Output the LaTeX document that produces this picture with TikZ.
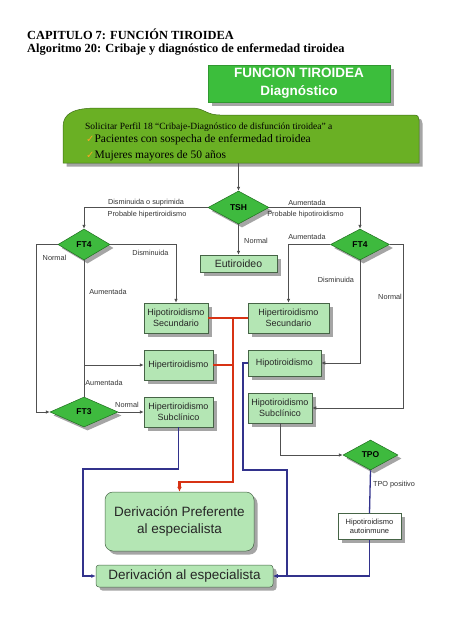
\documentclass[tikz,border=0pt]{standalone}
\usepackage{fontspec}
\setmainfont{Liberation Serif}
\setsansfont{Liberation Sans}
\newfontfamily\djv{DejaVu Sans}
\usetikzlibrary{shapes.geometric,shadows,arrows.meta}
\definecolor{mainG}{RGB}{106,176,36}
\definecolor{mainB}{RGB}{60,110,20}
\definecolor{titleG}{RGB}{60,190,60}
\definecolor{diaG}{RGB}{62,186,62}
\definecolor{diaB}{RGB}{30,110,30}
\definecolor{lightG}{RGB}{180,230,180}
\definecolor{boxB}{RGB}{70,100,70}
\definecolor{lineC}{RGB}{80,80,80}
\definecolor{redC}{RGB}{215,50,20}
\definecolor{blueC}{RGB}{50,50,140}
\definecolor{checkC}{RGB}{250,165,35}
\definecolor{shadC}{RGB}{165,165,165}
\newcommand{\chk}{{\djv\bfseries\fontsize{10}{10}\selectfont\textcolor{checkC}{\symbol{"2713}}}}
\begin{document}
\begin{tikzpicture}[x=1pt,y=-1pt,
  shad/.style={drop shadow={shadow xshift=3.5pt,shadow yshift=-3.5pt,fill=shadC,opacity=1}},
  diam/.style={diamond,draw=diaB,fill=diaG,inner sep=0pt,line width=0.5pt,
    font=\sffamily\bfseries\fontsize{8.5}{9}\selectfont,shad},
  lbox/.style={rectangle,draw=boxB,fill=lightG,inner sep=0pt,align=center,line width=0.5pt,
    font=\sffamily\fontsize{9}{10.5}\selectfont,text=black!85,shad},
  lab/.style={inner sep=0pt,font=\sffamily\fontsize{7.3}{8}\selectfont,text=black!80},
  conn/.style={draw=lineC,line width=0.7pt,-{Latex[length=4pt,width=3.5pt]}},
  plain/.style={draw=lineC,line width=0.7pt},
  redl/.style={draw=redC,line width=2.2pt},
  redconn/.style={draw=redC,line width=2.2pt,-{Latex[length=5pt,width=5pt]}},
  bluel/.style={draw=blueC,line width=1.3pt},
  blueconn/.style={draw=blueC,line width=1.3pt,-{Latex[length=4.5pt,width=4pt]}}
]
\useasboundingbox[fill=white] (0,0) rectangle (452,640);

% titles
\node[anchor=base west,inner sep=0pt,font=\fontsize{12.4}{14}\selectfont\bfseries] (t1) at (27,39.5) {CAPITULO 7: FUNCIÓN TIROIDEA};
\node[anchor=base west,inner sep=0pt,font=\fontsize{12.4}{14}\selectfont\bfseries] (t2) at (27,52) {Algoritmo 20: Cribaje y diagnóstico de enfermedad tiroidea};

% title box
\node[rectangle,fill=titleG,draw=titleG!80!black,line width=0.4pt,minimum width=182pt,minimum height=37pt,
  inner sep=0pt,align=center,text=white,font=\sffamily\bfseries\fontsize{13.5}{18}\selectfont,shad]
  (tb) at (299,83.5) {FUNCION TIROIDEA\\Diagnóstico};

% main box
\path[fill=mainG,draw=mainB,line width=0.5pt,shad]
  (63,163) -- (63,127) .. controls (63,113) and (74,108) .. (98,108)
  -- (192,108) .. controls (204,108) and (206,115) .. (220,115)
  -- (414,115) .. controls (418,115) and (419,117) .. (419,120) -- (419,163) -- cycle;
\node[anchor=base west,inner sep=0pt,font=\fontsize{9.5}{11}\selectfont] (m1) at (85,129)
  {Solicitar Perfil 18 “Cribaje-Diagnóstico de disfunción tiroidea” a};
\node[anchor=base west,inner sep=0pt,font=\fontsize{11.5}{13}\selectfont] (m2) at (86,142)
  {\chk Pacientes con sospecha de enfermedad tiroidea};
\node[anchor=base west,inner sep=0pt,font=\fontsize{11.5}{13}\selectfont] (m3) at (86,158)
  {\chk Mujeres mayores de 50 años};
\coordinate (mbot) at (238.5,163);

% diamonds
\node[diam,minimum width=61pt,minimum height=33pt] (TSH) at (238.5,207.5) {TSH};
\node[diam,minimum width=52pt,minimum height=31pt] (FT4L) at (84,244.5) {FT4};
\node[diam,minimum width=59pt,minimum height=31pt] (FT4R) at (360,244.5) {FT4};
\node[diam,minimum width=68pt,minimum height=30pt] (FT3) at (84,412) {FT3};
\node[diam,minimum width=55pt,minimum height=30pt] (TPO) at (370.5,455) {TPO};

% boxes
\node[lbox,minimum width=77pt,minimum height=17pt,font=\sffamily\fontsize{10.5}{12}\selectfont] (Eut) at (238.5,263.5) {Eutiroideo};
\node[lbox,minimum width=64pt,minimum height=30pt] (HipoSec) at (176,318) {Hipotiroidismo\\Secundario};
\node[lbox,minimum width=81pt,minimum height=30pt] (HiperSec) at (288.5,318) {Hipertiroidismo\\Secundario};
\node[lbox,minimum width=69pt,minimum height=30pt] (Hiper) at (178.5,365) {Hipertiroidismo};
\node[lbox,minimum width=73pt,minimum height=26pt] (Hipo) at (284.5,363) {Hipotiroidismo};
\node[lbox,minimum width=69pt,minimum height=30pt] (HiperSub) at (178.5,412) {Hipertiroidismo\\Subclínico};
\node[lbox,minimum width=64pt,minimum height=30pt] (HipoSub) at (280,408) {Hipotiroidismo\\Subclínico};
\node[lbox,fill=white,minimum width=63pt,minimum height=26pt,font=\sffamily\fontsize{7.5}{9.5}\selectfont] (Auto) at (369.5,526.5) {Hipotiroidismo\\autoinmune};
\node[lbox,rounded corners=8pt,minimum width=149pt,minimum height=59pt,font=\sffamily\fontsize{13.5}{17}\selectfont] (DerPref) at (179.5,521.5) {Derivación Preferente\\al especialista};
\node[lbox,rounded corners=3pt,minimum width=177pt,minimum height=22pt,font=\sffamily\fontsize{13.5}{15}\selectfont] (DerEsp) at (184.5,576) {Derivación al especialista};

% helper coordinates
\coordinate (lx) at (36,0);
\coordinate (rx) at (403,0);
\coordinate (rv) at (233,0);
\coordinate (rj) at (233,482);
\coordinate (bl1) at (83,469);
\coordinate (br1) at (243,470);
\coordinate (br2) at (287,470);

% gray connectors
\draw[conn] (mbot) -- (TSH.north);
\draw[conn] (TSH.west) -| (FT4L.north);
\draw[conn] (TSH.east) -| (FT4R.north);
\draw[conn] (TSH.south) -- (Eut.north);
\draw[conn] (FT4L.west) -- (FT4L.west -| lx) -- (FT3.west -| lx) -- (FT3.west);
\draw[conn] (FT4L.east) -| (HipoSec.north);
\draw[plain] (FT4L.south) -- (FT3.north);
\draw[conn] (FT4L.south |- Hiper.west) -- (Hiper.west);
\draw[conn] (FT3.east) -- (HiperSub.west);
\draw[conn] (FT4R.west) -| (HiperSec.north);
\draw[conn] (FT4R.south) |- (Hipo.east);
\draw[conn] (FT4R.east) -- (FT4R.east -| rx) -- (HipoSub.east -| rx) -- (HipoSub.east);
\draw[conn] (HipoSub.south) |- (TPO.west);

% red connectors
\draw[redl] (HipoSec.east) -- (HipoSec.east -| rv);
\draw[redl] (HiperSec.west) -- (HiperSec.west -| rv);
\draw[redl] (Hiper.east) -- (Hiper.east -| rv);
\draw[redconn] ([yshift=1.1pt]HipoSec.east -| rv) -- (rj) -| (DerPref.north);

% blue connectors
\draw[bluel] (TPO.south) -- (Auto.north);
\draw[blueconn] (Auto.south) |- (DerEsp.east);
\draw[blueconn] (HiperSub.south) |- (bl1) |- (DerEsp.west);
\draw[blueconn] (Hipo.west) -| (br1) -- (br2) |- (DerEsp.east);

% labels
\node[lab] (l1) at (146,203) {Disminuida o suprimida};
\node[lab] (l2) at (147,215) {Probable hipertiroidismo};
\node[lab] (l3) at (307,203) {Aumentada};
\node[lab] (l4) at (305.5,215) {Probable hipotiroidismo};
\node[lab] (l5) at (256,241) {Normal};
\node[lab] (l6) at (307,237) {Aumentada};
\node[lab] (l7) at (54.5,258) {Normal};
\node[lab] (l8) at (150.5,253) {Disminuida};
\node[lab] (l9) at (108,292) {Aumentada};
\node[lab] (l10) at (336,280) {Disminuida};
\node[lab] (l11) at (390,297) {Normal};
\node[lab] (l12) at (104,383) {Aumentada};
\node[lab] (l13) at (127,405) {Normal};
\node[lab] (l14) at (394,485) {TPO positivo};
\end{tikzpicture}
\end{document}
